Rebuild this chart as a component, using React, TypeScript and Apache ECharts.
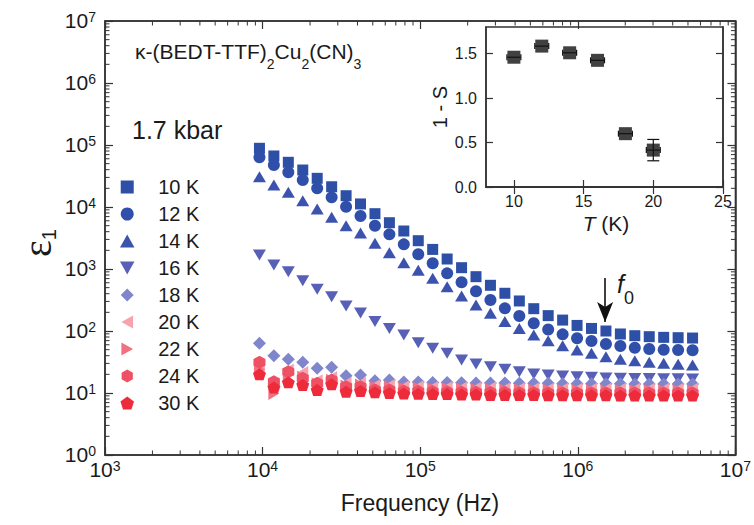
import React, { useEffect, useRef } from 'react';
import * as echarts from 'echarts';

// ---------- data ----------
const FREQ_HZ = [9550, 11790, 14560, 17980, 22200, 27420, 33860, 41810, 51630, 63750, 78700, 97190, 120000, 148200, 183000, 225900, 279000, 344500, 425500, 525400, 648600, 801000, 989000, 1221000, 1508000, 1862000, 2299000, 2839000, 3506000, 4329000, 5346000];

const EPS_10K = [88500, 66500, 52600, 39500, 29000, 21200, 15200, 11200, 7800, 5580, 4100, 2860, 2070, 1450, 1050, 752, 546, 406, 305, 229, 177, 150, 123, 110, 100, 89.5, 84, 81, 79, 78, 77];
const EPS_12K = [63400, 47500, 36300, 27200, 20000, 14300, 10100, 7160, 4990, 3620, 2500, 1730, 1240, 851, 610, 437, 316, 232, 175, 133, 106, 88.3, 76.2, 69, 61.7, 57.3, 53.8, 51.3, 49.9, 49.4, 48.9];
const EPS_14K = [30800, 22600, 17300, 12600, 9290, 6820, 4990, 3800, 2600, 1830, 1260, 955, 708, 519, 367, 262, 193, 142, 110, 86, 69.8, 57.9, 49.4, 43.6, 38.5, 35, 33.1, 31.3, 30.1, 29, 28.3];
const EPS_16K = [1680, 1160, 906, 649, 470, 358, 253, 195, 142, 110, 86, 64.9, 52.5, 43.6, 34, 29.4, 26.6, 24.1, 22.1, 20.2, 19.5, 18.8, 18.3, 17.9, 17.5, 17.3, 17.2, 17.1, 17, 16.9, 16.8];
const EPS_18K = [63.2, 40, 34.9, 31.3, 25, 26, 19, 19.5, 15.8, 16.2, 15.1, 15.1, 14.8, 14.8, 14.6, 14.5, 14.5, 14.5, 14.3, 14.3, 14.3, 14.1, 14.1, 14.1, 14.1, 14.1, 14, 14, 14, 14, 14];
const EPS_20K = [26.3, 14.1, 23.4, 21.4, 15.8, 17.8, 14.4, 14.4, 13.2, 13.2, 12.6, 12.6, 12.3, 12.3, 12, 12, 12, 11.7, 11.7, 11.7, 11.5, 11.5, 11.5, 11.5, 11.5, 11.5, 11.5, 11.5, 11.5, 11.5, 11.5];
const EPS_22K = [24, 9.8, 20, 18, 14, 16, 13, 13.5, 12.5, 12.5, 12, 12, 11.8, 11.8, 11.6, 11.5, 11.5, 11.3, 11.3, 11.2, 11.2, 11.1, 11.1, 11, 11, 11, 11, 11, 11, 11, 11];
const EPS_24K = [31.3, 15.2, 22.1, 17.3, 14.3, 16.2, 12.6, 12.6, 11.2, 11.2, 10.7, 10.6, 10.5, 10.4, 10.3, 10.3, 10.2, 10.2, 10.1, 10.1, 10, 10, 10, 10, 10, 10, 10, 10, 10, 10, 10];
const EPS_30K = [20, 12.3, 14.9, 13.5, 11.2, 13.8, 10.5, 10.8, 10.3, 10, 9.8, 9.7, 9.6, 9.6, 9.5, 9.5, 9.3, 9.3, 9.3, 9.3, 9.2, 9.2, 9.2, 9.2, 9.2, 9.1, 9.1, 9.1, 9.1, 9.1, 9.1];

const TEMP_LABELS = ['10 K', '12 K', '14 K', '16 K', '18 K', '20 K', '22 K', '24 K', '30 K'];

const INSET_T = [10, 12, 14, 16, 18, 20];
const INSET_ONE_MINUS_S = [1.46, 1.585, 1.51, 1.425, 0.6, 0.415];
const INSET_T_ERR = [0.5, 0.5, 0.5, 0.5, 0.5, 0.5];
const INSET_S_ERR = [0, 0, 0, 0, 0, 0.12];

const INSET_X_TICKS = [10, 15, 20, 25];
const INSET_Y_TICKS = [0, 0.5, 1.0, 1.5];

const F0_FREQ = 1490000;
const F0_ARROW_FROM = 716;
const F0_ARROW_TO = 140;

// ---------- styles ----------
const FONT = '"Liberation Sans", Arial, Helvetica, sans-serif';
const INK = '#1a1a1a';
const AXIS = '#333333';

const SERIES_STYLE = [
  { color: '#2d4fa6', symbol: 'path://M0,0L10,0L10,10L0,10z', size: [11, 11] },
  { color: '#2f4faa', symbol: 'circle', size: 12 },
  { color: '#3c53ae', symbol: 'path://M5,0L10,9L0,9z', size: [13, 11] },
  { color: '#5760b6', symbol: 'path://M0,0L10,0L5,9z', size: [13, 11] },
  { color: '#7f86cc', symbol: 'path://M5,0L10,5L5,10L0,5z', size: [13, 13] },
  { color: '#f7a3ae', symbol: 'path://M9,0L9,10L0,5z', size: [11, 13] },
  { color: '#f2707f', symbol: 'path://M0,0L0,10L9,5z', size: [11, 13] },
  { color: '#ee5064', symbol: 'path://M5,0L9.33,2.5L9.33,7.5L5,10L0.67,7.5L0.67,2.5z', size: [12, 13] },
  { color: '#ee2b3b', symbol: 'path://M5,0L10,3.7L8.1,9.6L1.9,9.6L0,3.7z', size: [13, 12] },
];

const SERIES_DATA = [EPS_10K, EPS_12K, EPS_14K, EPS_16K, EPS_18K, EPS_20K, EPS_22K, EPS_24K, EPS_30K];

function minorLogTicks(fromExp: number, toExp: number): number[] {
  const out: number[] = [];
  for (let e = fromExp; e < toExp; e++) {
    for (let m = 2; m <= 9; m++) out.push(m * Math.pow(10, e));
  }
  return out;
}

const powLabel = (v: number) => `{b|10}{s|${Math.round(Math.log10(v))}}`;
const powRich = {
  b: { fontSize: 21, lineHeight: 22, verticalAlign: 'top', color: INK, fontFamily: FONT },
  s: { fontSize: 14, lineHeight: 6, verticalAlign: 'top', color: INK, fontFamily: FONT },
};

export default function App() {
  const ref = useRef<HTMLDivElement>(null);

  useEffect(() => {
    if (!ref.current) return;
    const chart = echarts.init(ref.current, undefined, { renderer: 'svg' });

    const mainSeries = TEMP_LABELS.map((name, k) => ({
      name,
      type: 'scatter',
      xAxisIndex: 0,
      yAxisIndex: 0,
      symbol: SERIES_STYLE[k].symbol,
      symbolSize: SERIES_STYLE[k].size,
      itemStyle: { color: SERIES_STYLE[k].color, opacity: 1 },
      data: FREQ_HZ.map((f, i) => [f, SERIES_DATA[k][i]]),
      z: 3 + k * 0.01,
      ...(k === 0
        ? {
            markLine: {
              silent: true,
              animation: false,
              symbol: ['none', 'arrow'],
              symbolSize: [12, 20],
              lineStyle: { color: '#111', width: 1.6, type: 'solid' },
              label: { show: false },
              data: [[{ coord: [F0_FREQ, F0_ARROW_FROM] }, { coord: [F0_FREQ, F0_ARROW_TO] }]],
            },
          }
        : {}),
    }));

    const xMinor = minorLogTicks(3, 7);
    const yMinor = minorLogTicks(0, 7);

    const option: any = {
      animation: false,
      backgroundColor: '#ffffff',
      textStyle: { fontFamily: FONT },
      grid: [
        { left: 105, right: 16, top: 21, bottom: 70, show: true, borderColor: AXIS, borderWidth: 1.5, backgroundColor: 'transparent' },
        { left: 486, top: 27, width: 237, height: 160, show: true, borderColor: AXIS, borderWidth: 1.5, backgroundColor: 'transparent' },
      ],
      legend: {
        data: TEMP_LABELS,
        orient: 'vertical',
        left: 120,
        top: 177,
        padding: 0,
        itemWidth: 52,
        itemHeight: 13,
        itemGap: 7,
        selectedMode: false,
        textStyle: { fontSize: 20, color: INK, fontFamily: FONT, lineHeight: 20 },
      },
      xAxis: [
        {
          type: 'log', gridIndex: 0, min: 1e3, max: 1e7, logBase: 10, position: 'bottom',
          axisLine: { show: true, lineStyle: { color: AXIS, width: 1.5 } },
          axisTick: { show: true, inside: true, length: 8, lineStyle: { color: AXIS, width: 1.2 } },
          axisLabel: { show: true, margin: 4, formatter: powLabel, rich: powRich },
          splitLine: { show: false },
          minorTick: { show: false },
        },
        {
          type: 'log', gridIndex: 0, min: 1e3, max: 1e7, logBase: 10, position: 'top',
          axisLine: { show: true, lineStyle: { color: AXIS, width: 1.5 } },
          axisTick: { show: true, inside: true, length: 8, lineStyle: { color: AXIS, width: 1.2 } },
          axisLabel: { show: false },
          splitLine: { show: false },
        },
        {
          type: 'value', gridIndex: 1, min: 8, max: 25, position: 'bottom',
          axisLine: { show: true, lineStyle: { color: AXIS, width: 1.5 } },
          axisTick: { show: true, inside: true, length: 7, customValues: INSET_X_TICKS, lineStyle: { color: AXIS, width: 1.2 } },
          axisLabel: { show: true, customValues: INSET_X_TICKS, fontSize: 16, color: INK, fontFamily: FONT, margin: 6 },
          splitLine: { show: false },
        },
        {
          type: 'value', gridIndex: 1, min: 8, max: 25, position: 'top',
          axisLine: { show: true, lineStyle: { color: AXIS, width: 1.5 } },
          axisTick: { show: true, inside: true, length: 7, customValues: INSET_X_TICKS, lineStyle: { color: AXIS, width: 1.2 } },
          axisLabel: { show: false },
          splitLine: { show: false },
        },
      ],
      yAxis: [
        {
          type: 'log', gridIndex: 0, min: 1, max: 1e7, logBase: 10, position: 'left',
          axisLine: { show: true, lineStyle: { color: AXIS, width: 1.5 } },
          axisTick: { show: true, inside: true, length: 8, lineStyle: { color: AXIS, width: 1.2 } },
          axisLabel: { show: true, margin: 9, formatter: powLabel, rich: powRich },
          splitLine: { show: false },
        },
        {
          type: 'log', gridIndex: 0, min: 1, max: 1e7, logBase: 10, position: 'right',
          axisLine: { show: true, lineStyle: { color: AXIS, width: 1.5 } },
          axisTick: { show: true, inside: true, length: 8, lineStyle: { color: AXIS, width: 1.2 } },
          axisLabel: { show: false },
          splitLine: { show: false },
        },
        {
          type: 'value', gridIndex: 1, min: 0, max: 1.8, position: 'left',
          name: '1 - S', nameLocation: 'middle', nameGap: 36, nameRotate: 90,
          nameTextStyle: { fontSize: 20, color: INK, fontFamily: FONT },
          axisLine: { show: true, lineStyle: { color: AXIS, width: 1.5 } },
          axisTick: { show: true, inside: true, length: 7, customValues: INSET_Y_TICKS, lineStyle: { color: AXIS, width: 1.2 } },
          axisLabel: { show: true, customValues: INSET_Y_TICKS, fontSize: 16, color: INK, fontFamily: FONT, margin: 9, formatter: (v: number) => v.toFixed(1) },
          splitLine: { show: false },
        },
        {
          type: 'value', gridIndex: 1, min: 0, max: 1.8, position: 'right',
          axisLine: { show: true, lineStyle: { color: AXIS, width: 1.5 } },
          axisTick: { show: true, inside: true, length: 7, customValues: INSET_Y_TICKS, lineStyle: { color: AXIS, width: 1.2 } },
          axisLabel: { show: false },
          splitLine: { show: false },
        },
      ],
      series: [
        ...mainSeries,
        {
          type: 'custom', name: 'xminor', xAxisIndex: 0, yAxisIndex: 0, silent: true, z: 6,
          data: xMinor.map((v) => [v, 10]),
          renderItem: (params: any, api: any) => {
            const cs = params.coordSys;
            const x = api.coord([api.value(0), 10])[0];
            const st = { stroke: AXIS, lineWidth: 1 };
            return {
              type: 'group',
              children: [
                { type: 'line', shape: { x1: x, y1: cs.y + cs.height, x2: x, y2: cs.y + cs.height - 4.5 }, style: st },
                { type: 'line', shape: { x1: x, y1: cs.y, x2: x, y2: cs.y + 4.5 }, style: st },
              ],
            };
          },
        },
        {
          type: 'custom', name: 'yminor', xAxisIndex: 0, yAxisIndex: 0, silent: true, z: 6,
          data: yMinor.map((v) => [1e4, v]),
          renderItem: (params: any, api: any) => {
            const cs = params.coordSys;
            const y = api.coord([1e4, api.value(1)])[1];
            const st = { stroke: AXIS, lineWidth: 1 };
            return {
              type: 'group',
              children: [
                { type: 'line', shape: { x1: cs.x, y1: y, x2: cs.x + 4.5, y2: y }, style: st },
                { type: 'line', shape: { x1: cs.x + cs.width, y1: y, x2: cs.x + cs.width - 4.5, y2: y }, style: st },
              ],
            };
          },
        },
        {
          type: 'custom', name: 'err', xAxisIndex: 2, yAxisIndex: 2, silent: true, z: 4,
          data: INSET_T.map((t, i) => [t, INSET_ONE_MINUS_S[i], INSET_T_ERR[i], INSET_S_ERR[i]]),
          renderItem: (params: any, api: any) => {
            const p = api.coord([api.value(0), api.value(1)]);
            const dx = api.size([api.value(2), 0])[0];
            const dy = api.size([0, api.value(3)])[1];
            const st = { stroke: '#111', lineWidth: 1.2 };
            const ch: any[] = [
              { type: 'line', shape: { x1: p[0] - dx, y1: p[1], x2: p[0] + dx, y2: p[1] }, style: st },
              { type: 'line', shape: { x1: p[0] - dx, y1: p[1] - 3, x2: p[0] - dx, y2: p[1] + 3 }, style: st },
              { type: 'line', shape: { x1: p[0] + dx, y1: p[1] - 3, x2: p[0] + dx, y2: p[1] + 3 }, style: st },
            ];
            if (dy > 0) {
              ch.push(
                { type: 'line', shape: { x1: p[0], y1: p[1] - dy, x2: p[0], y2: p[1] + dy }, style: st },
                { type: 'line', shape: { x1: p[0] - 6, y1: p[1] - dy, x2: p[0] + 6, y2: p[1] - dy }, style: st },
                { type: 'line', shape: { x1: p[0] - 6, y1: p[1] + dy, x2: p[0] + 6, y2: p[1] + dy }, style: st },
              );
            }
            return { type: 'group', children: ch };
          },
        },
        {
          type: 'scatter', name: 'inset', xAxisIndex: 2, yAxisIndex: 2, z: 5,
          symbol: 'rect', symbolSize: 13,
          itemStyle: { color: '#111' },
          data: INSET_T.map((t, i) => [t, INSET_ONE_MINUS_S[i]]),
        },
      ],
      graphic: [
        {
          type: 'text', left: 135, top: 41,
          style: {
            text: '{n|κ-(BEDT-TTF)}{s|2}{n|Cu}{s|2}{n|(CN)}{s|3}',
            rich: {
              n: { fontSize: 21, lineHeight: 30, verticalAlign: 'top', fill: INK, fontFamily: FONT },
              s: { fontSize: 14, lineHeight: 30, verticalAlign: 'bottom', fill: INK, fontFamily: FONT },
            },
          },
        },
        {
          type: 'text', x: 132, y: 130,
          style: { text: '1.7 kbar', fontSize: 25, fill: INK, fontFamily: FONT, textVerticalAlign: 'middle' },
        },
        {
          type: 'text', x: 38, y: 243, rotation: Math.PI / 2,
          style: {
            text: '{e|ε}{s|1}',
            textAlign: 'center', textVerticalAlign: 'middle',
            rich: {
              e: { fontSize: 40, lineHeight: 42, verticalAlign: 'top', fill: INK, fontFamily: '"Liberation Serif", "DejaVu Serif", serif' },
              s: { fontSize: 20, lineHeight: 42, verticalAlign: 'bottom', fill: INK, fontFamily: FONT },
            },
          },
        },
        {
          type: 'text', x: 420, y: 503,
          style: { text: 'Frequency (Hz)', fontSize: 23, fill: INK, fontFamily: FONT, textAlign: 'center', textVerticalAlign: 'middle' },
        },
        {
          type: 'text', x: 606, y: 223,
          style: {
            text: '{i|T} (K)',
            fontSize: 21, fill: INK, fontFamily: FONT, textAlign: 'center', textVerticalAlign: 'middle',
            rich: { i: { fontSize: 21, fontStyle: 'italic', fill: INK, fontFamily: FONT } },
          },
        },
        {
          type: 'text', left: 617, top: 271,
          style: {
            text: '{f|f}{s|0}',
            rich: {
              f: { fontSize: 25, lineHeight: 36, verticalAlign: 'top', fontStyle: 'italic', fill: INK, fontFamily: FONT },
              s: { fontSize: 18, lineHeight: 36, verticalAlign: 'bottom', fill: INK, fontFamily: FONT },
            },
          },
        },
      ],
    };

    chart.setOption(option);
    return () => chart.dispose();
  }, []);

  return <div ref={ref} style={{ width: 754, height: 525, position: 'absolute', left: 0, top: 0 }} />;
}
